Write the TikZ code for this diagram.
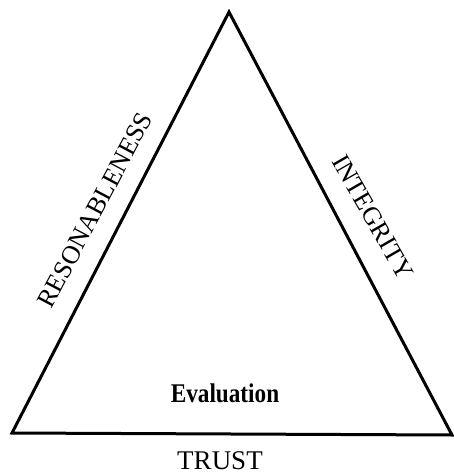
\documentclass[tikz,border=0pt]{standalone}
\usepackage{fontspec}
\setmainfont{Liberation Serif}
\begin{document}
\begin{tikzpicture}[x=1pt,y=-1pt,
  side/.style={line width=3pt,line join=miter},
  sidelabel/.style={font=\fontsize{26}{30}\selectfont,inner sep=0pt},
  baselabel/.style={font=\fontsize{27}{30}\selectfont,inner sep=0pt},
  innerlabel/.style={font=\bfseries\fontsize{27}{30}\selectfont,inner sep=0pt,xscale=0.86}]
\useasboundingbox (0,0) rectangle (454,476);
\coordinate (apex) at (229,12);
\coordinate (bl) at (12,433);
\coordinate (br) at (452,435);
\draw[side] (apex) -- (bl) -- (br) -- cycle;
\node[sidelabel,rotate=62] (res) at (95,210) {RESONABLENESS};
\node[sidelabel,rotate=-60] (int) at (373,217) {INTEGRITY};
\node[innerlabel] (eval) at (225,393) {Evaluation};
\node[baselabel] (trust) at (220,461) {TRUST};
\end{tikzpicture}
\end{document}
